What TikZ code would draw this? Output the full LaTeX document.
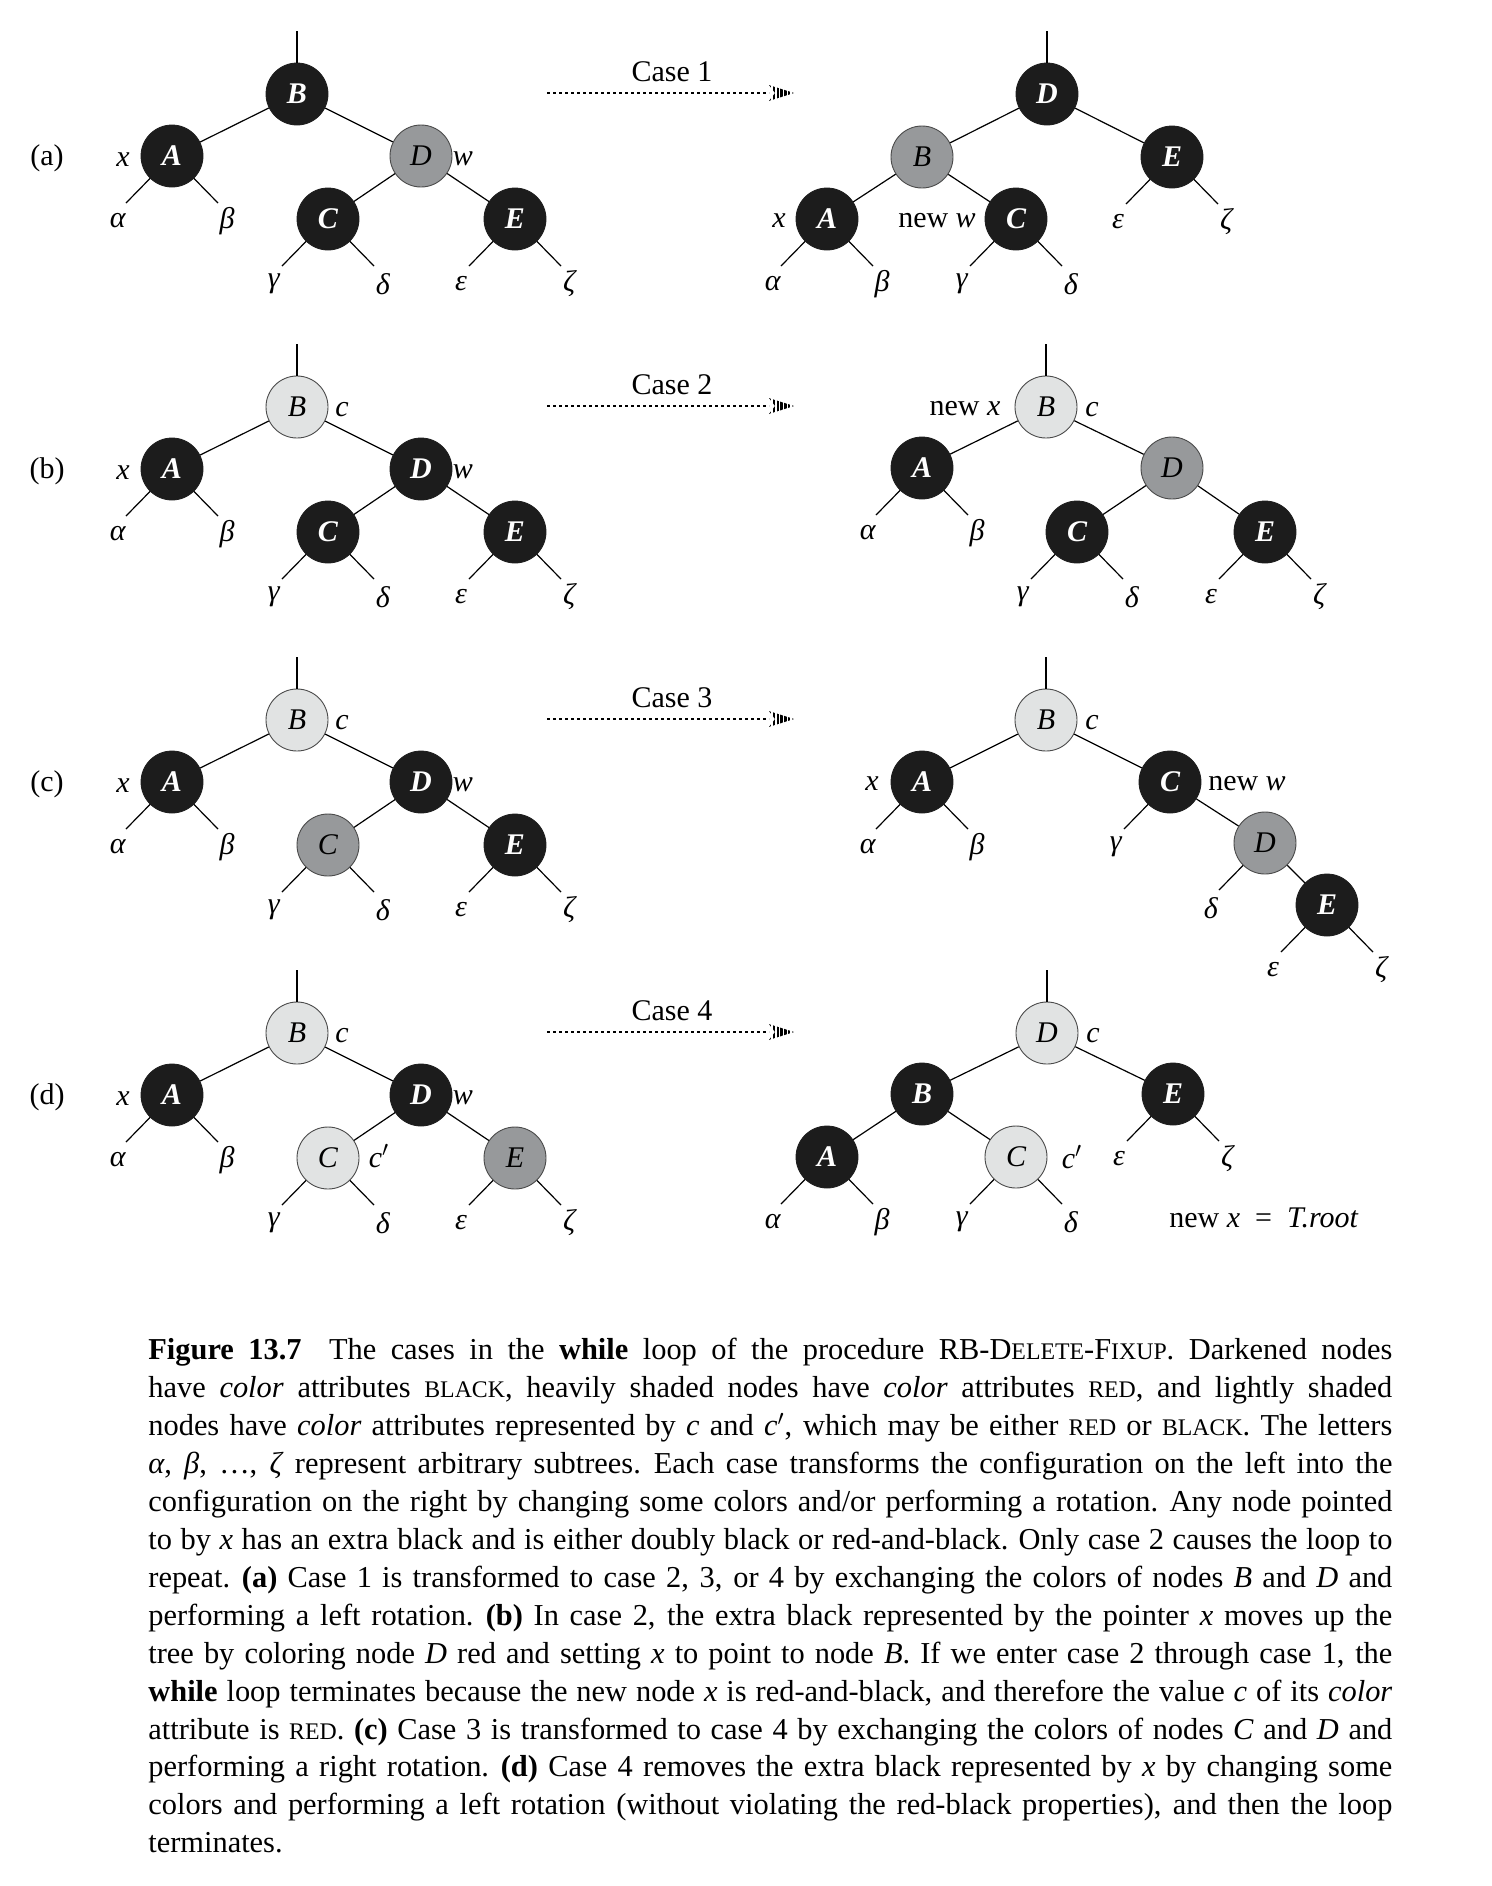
\documentclass[tikz,border=0pt]{standalone}
\usepackage{fontspec}
\setmainfont{Liberation Serif}
\usetikzlibrary{calc}
\definecolor{nblack}{HTML}{1C1C1C}
\definecolor{nred}{HTML}{97999B}
\definecolor{nlight}{HTML}{E1E3E3}
\definecolor{nborder}{HTML}{4A4A4A}
\newcommand\nodeshape{\itshape}
\tikzset{
  rbnode/.style={circle, minimum size=31pt, inner sep=0pt, font=\fontsize{15pt}{15pt}\selectfont},
  blk/.style={rbnode, fill=nblack, draw=nblack, text=white, /utils/exec=\def\nodeshape{\bfseries\itshape}},
  redn/.style={rbnode, fill=nred, draw=nborder, line width=0.45pt, /utils/exec=\def\nodeshape{\itshape}},
  lite/.style={rbnode, fill=nlight, draw=nborder, line width=0.45pt, /utils/exec=\def\nodeshape{\itshape}},
  lbl/.style={inner sep=0pt, font=\fontsize{15pt}{15pt}\selectfont},
  txt/.style={inner sep=0pt, font=\fontsize{15pt}{15pt}\selectfont},
  edge/.style={line width=0.6pt, draw=black},
}
\newcommand\NL[1]{{\nodeshape #1}}
\newcommand\leafL[3]{%
  \coordinate (#2e) at ($(#1)+(-46,47)$);
  \draw[edge] (#1) -- (#2e);
  \node[lbl] (#2) at ($(#1)+(-54,65)$) {\textit{#3}};}
\newcommand\leafR[3]{%
  \coordinate (#2e) at ($(#1)+(46,47)$);
  \draw[edge] (#1) -- (#2e);
  \node[lbl] (#2) at ($(#1)+(55,65)$) {\textit{#3}};}
\newcommand\lefttree[7]{%
  \coordinate (#1top) at (297,{#2-63});
  \node[#3] (#1B) at (297,#2) {\NL{B}};
  \node[#4] (#1A) at (172,{#2+62}) {\NL{A}};
  \node[#5] (#1D) at (421,{#2+62}) {\NL{D}};
  \node[#6] (#1C) at (328,{#2+125}) {\NL{C}};
  \node[#7] (#1E) at (515,{#2+125}) {\NL{E}};
  \draw[edge] (#1top) -- (#1B);
  \draw[edge] (#1B) -- (#1A);
  \draw[edge] (#1B) -- (#1D);
  \draw[edge] (#1D) -- (#1C);
  \draw[edge] (#1D) -- (#1E);
  \leafL{#1A}{#1al}{α}
  \leafR{#1A}{#1be}{β}
  \leafL{#1C}{#1ga}{γ}
  \leafR{#1C}{#1de}{δ}
  \leafL{#1E}{#1ep}{ε}
  \leafR{#1E}{#1ze}{ζ}
  \node[lbl] (#1x) at (123,{#2+66}) {\textit{x}};
  \node[lbl] (#1w) at (463,{#2+65}) {\textit{w}};
}
\newcommand\casearrow[3]{%
  \node[txt] (#1t) at (672,{#2-22}) {#3};
  \coordinate (#1s) at (547,{#2-1});
  \coordinate (#1e) at (769,{#2-1});
  \draw[line width=1.1pt, dash pattern=on 1.35pt off 1.65pt] (#1s) -- (#1e);
  \begin{scope}
    \clip (769,{#2-9}) -- (794,{#2-1}) -- (769,{#2+7}) -- (775,{#2-1}) -- cycle;
    \foreach \k in {0,...,6} \fill ({769+3.8*\k},{#2-11}) rectangle ++(2.4,20);
  \end{scope}
}
\newcommand\smc[1]{{\fontsize{11.9pt}{11.9pt}\selectfont #1}}
\newcommand\cl[1]{\noindent\hbox to 622pt{#1}\par}
\begin{document}
\begin{tikzpicture}[x=0.5pt, y=-0.5pt]
\useasboundingbox (0,0) rectangle (1492,1886);

% ---------- row labels ----------
\node[txt] (la) at (47,158) {(a)};
\node[txt] (lb) at (47,471) {(b)};
\node[txt] (lc) at (47,784) {(c)};
\node[txt] (ld) at (47,1097) {(d)};

% ---------- left trees ----------
\lefttree{a}{94}{blk}{blk}{redn}{blk}{blk}
\lefttree{b}{407}{lite}{blk}{blk}{blk}{blk}
\node[lbl] (bc) at (342,410) {\textit{c}};
\lefttree{c}{720}{lite}{blk}{blk}{redn}{blk}
\node[lbl] (cc) at (342,723) {\textit{c}};
\lefttree{d}{1033}{lite}{blk}{blk}{lite}{redn}
\node[lbl] (dc) at (342,1036) {\textit{c}};
\node[lbl] (dcp) at (379,1156) {\textit{c}$'$};

% ---------- arrows ----------
\casearrow{ka}{94}{Case 1}
\casearrow{kb}{407}{Case 2}
\casearrow{kc}{720}{Case 3}
\casearrow{kd}{1033}{Case 4}

% ---------- right (a) ----------
\coordinate (ratop) at (1047,31);
\node[blk] (raD) at (1047,94) {\NL{D}};
\node[redn] (raB) at (922,157) {\NL{B}};
\node[blk] (raE) at (1172,157) {\NL{E}};
\node[blk] (raA) at (827,219) {\NL{A}};
\node[blk] (raC) at (1016,219) {\NL{C}};
\draw[edge] (ratop) -- (raD);
\draw[edge] (raD) -- (raB);
\draw[edge] (raD) -- (raE);
\draw[edge] (raB) -- (raA);
\draw[edge] (raB) -- (raC);
\leafL{raA}{raal}{α}
\leafR{raA}{rabe}{β}
\leafL{raC}{raga}{γ}
\leafR{raC}{rade}{δ}
\leafL{raE}{raep}{ε}
\leafR{raE}{raze}{ζ}
\node[lbl] (rax) at (779,221) {\textit{x}};
\node[txt] (ranw) at (937,221) {new \textit{w}};

% ---------- right (b) ----------
\coordinate (rbtop) at (1046,344);
\node[lite] (rbB) at (1046,407) {\NL{B}};
\node[blk] (rbA) at (922,468) {\NL{A}};
\node[redn] (rbD) at (1172,468) {\NL{D}};
\node[blk] (rbC) at (1077,532) {\NL{C}};
\node[blk] (rbE) at (1265,532) {\NL{E}};
\draw[edge] (rbtop) -- (rbB);
\draw[edge] (rbB) -- (rbA);
\draw[edge] (rbB) -- (rbD);
\draw[edge] (rbD) -- (rbC);
\draw[edge] (rbD) -- (rbE);
\leafL{rbA}{rbal}{α}
\leafR{rbA}{rbbe}{β}
\leafL{rbC}{rbga}{γ}
\leafR{rbC}{rbde}{δ}
\leafL{rbE}{rbep}{ε}
\leafR{rbE}{rbze}{ζ}
\node[txt] (rbnx) at (965,409) {new \textit{x}};
\node[lbl] (rbc) at (1092,410) {\textit{c}};

% ---------- right (c) ----------
\coordinate (rctop) at (1046,657);
\node[lite] (rcB) at (1046,720) {\NL{B}};
\node[blk] (rcA) at (922,782) {\NL{A}};
\node[blk] (rcC) at (1170,782) {\NL{C}};
\node[redn] (rcD) at (1265,843) {\NL{D}};
\node[blk] (rcE) at (1327,905) {\NL{E}};
\draw[edge] (rctop) -- (rcB);
\draw[edge] (rcB) -- (rcA);
\draw[edge] (rcB) -- (rcC);
\draw[edge] (rcC) -- (rcD);
\draw[edge] (rcD) -- (rcE);
\leafL{rcA}{rcal}{α}
\leafR{rcA}{rcbe}{β}
\leafL{rcC}{rcga}{γ}
\leafL{rcD}{rcde}{δ}
\leafL{rcE}{rcep}{ε}
\leafR{rcE}{rcze}{ζ}
\node[lbl] (rcx) at (872,784) {\textit{x}};
\node[txt] (rcnw) at (1247,784) {new \textit{w}};
\node[lbl] (rcc) at (1092,723) {\textit{c}};

% ---------- right (d) ----------
\coordinate (rdtop) at (1047,970);
\node[lite] (rdD) at (1047,1033) {\NL{D}};
\node[blk] (rdB) at (922,1094) {\NL{B}};
\node[blk] (rdE) at (1173,1094) {\NL{E}};
\node[blk] (rdA) at (827,1157) {\NL{A}};
\node[lite] (rdC) at (1016,1157) {\NL{C}};
\draw[edge] (rdtop) -- (rdD);
\draw[edge] (rdD) -- (rdB);
\draw[edge] (rdD) -- (rdE);
\draw[edge] (rdB) -- (rdA);
\draw[edge] (rdB) -- (rdC);
\leafL{rdA}{rdal}{α}
\leafR{rdA}{rdbe}{β}
\leafL{rdC}{rdga}{γ}
\leafR{rdC}{rdde}{δ}
\leafL{rdE}{rdep}{ε}
\leafR{rdE}{rdze}{ζ}
\node[lbl] (rdc) at (1093,1036) {\textit{c}};
\node[lbl] (rdcp) at (1072,1157) {\textit{c}$'$};
\node[txt] (rdroot) at (1264,1218) {new \textit{x}\enspace=\enspace\textit{T.root}};

% ---------- caption ----------
\node[anchor=north west, inner sep=0pt, text width=622pt,
      font=\fontsize{15.2pt}{18.96pt}\selectfont] (cap) at (148,1338) {%
\parskip=0pt\parindent=0pt
\spaceskip=0.25em plus 0.4em minus 0.1em
\xspaceskip=0.3em plus 0.4em minus 0.1em
\cl{\textbf{Figure 13.7}\hspace{0.9em}The cases in the \textbf{while} loop of the procedure RB-D\smc{ELETE}-F\smc{IXUP}. Darkened nodes}
\cl{have \textit{color} attributes \smc{BLACK}, heavily shaded nodes have \textit{color} attributes \smc{RED}, and lightly shaded}
\cl{nodes have \textit{color} attributes represented by \textit{c} and \textit{c}$'$, which may be either \smc{RED} or \smc{BLACK}. The letters}
\cl{\textit{α}, \textit{β}, …, \textit{ζ} represent arbitrary subtrees. Each case transforms the configuration on the left into the}
\cl{configuration on the right by changing some colors and/or performing a rotation. Any node pointed}
\cl{to by \textit{x} has an extra black and is either doubly black or red-and-black. Only case 2 causes the loop to}
\cl{repeat. \textbf{(a)} Case 1 is transformed to case 2, 3, or 4 by exchanging the colors of nodes \textit{B} and \textit{D} and}
\cl{performing a left rotation. \textbf{(b)} In case 2, the extra black represented by the pointer \textit{x} moves up the}
\cl{tree by coloring node \textit{D} red and setting \textit{x} to point to node \textit{B}. If we enter case 2 through case 1, the}
\cl{\textbf{while} loop terminates because the new node \textit{x} is red-and-black, and therefore the value \textit{c} of its \textit{color}}
\cl{attribute is \smc{RED}. \textbf{(c)} Case 3 is transformed to case 4 by exchanging the colors of nodes \textit{C} and \textit{D} and}
\cl{performing a right rotation. \textbf{(d)} Case 4 removes the extra black represented by \textit{x} by changing some}
\cl{colors and performing a left rotation (without violating the red-black properties), and then the loop}
\noindent\hbox{terminates.}\par};
\end{tikzpicture}
\end{document}
